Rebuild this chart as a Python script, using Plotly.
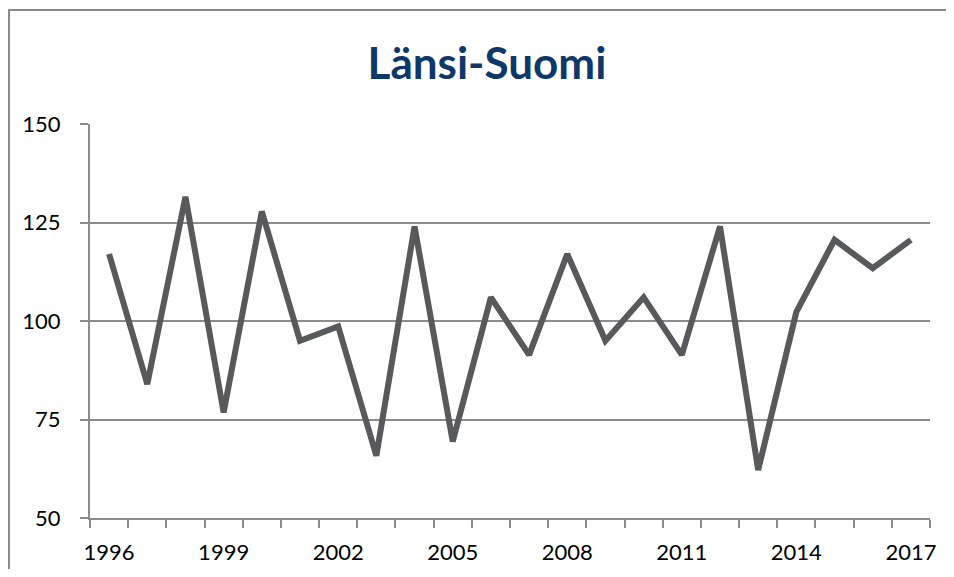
import plotly.graph_objects as go

# Data
years = list(range(1996, 2018))
values = [117, 84, 131.5, 76.8, 127.8, 95, 98.6, 65.8, 124, 69.4, 106, 91.4,
          117, 95, 106, 91.4, 124, 62.2, 102.3, 120.6, 113.4, 120.6]
label_years = [1996, 1999, 2002, 2005, 2008, 2011, 2014, 2017]
y_ticks = [50, 75, 100, 125, 150]

GRID = '#8c8c8c'
FONT = 'Lato'

# the page puts the figure 8px in from the top-left corner;
# keep it small enough that the page does not overflow the window
W, H = 938, 561
L, T = 82, 116
PW, PH = 840, 394

fig = go.Figure(
    go.Scatter(
        x=years,
        y=values,
        mode='lines',
        line=dict(color='#58595b', width=6),
        hoverinfo='skip',
    )
)

fig.update_layout(
    width=W,
    height=H,
    margin=dict(l=L, r=W - L - PW, t=T, b=H - T - PH),
    paper_bgcolor='white',
    plot_bgcolor='white',
    showlegend=False,
    font=dict(family=FONT, size=22, color='#000000'),
    title=dict(
        text='<b>Länsi-Suomi</b>',
        x=479 / W,
        xanchor='center',
        y=1 - 56 / H,
        yanchor='middle',
        font=dict(family=FONT, size=44, color='#0e3868'),
        automargin=False,
    ),
)

fig.update_xaxes(
    range=[1995.5, 2017.5],
    tickvals=label_years,
    ticks='',
    showgrid=False,
    zeroline=False,
    showline=True,
    linecolor=GRID,
    linewidth=2,
    ticklabelstandoff=14,
    automargin=False,
    minor=dict(
        ticks='outside',
        tick0=1995.5,
        dtick=1,
        ticklen=8,
        tickwidth=2,
        tickcolor=GRID,
        showgrid=False,
    ),
)

fig.update_yaxes(
    range=[50, 150],
    tickvals=y_ticks,
    ticks='outside',
    ticklen=8,
    tickwidth=2,
    tickcolor=GRID,
    showgrid=True,
    gridcolor=GRID,
    gridwidth=2,
    zeroline=False,
    showline=True,
    linecolor=GRID,
    linewidth=2,
    ticklabelstandoff=15,
    automargin=False,
)

# Outer chart frame: only its left and top edges fall inside the picture
fx = -(L - 1) / PW
fy = (T + PH - 2) / PH
fig.add_shape(
    type='path',
    xref='paper', yref='paper',
    path=f'M {fx},-0.3 L {fx},{fy} L 1.2,{fy}',
    line=dict(color='#8a8a8a', width=2),
    layer='below',
)

fig.write_html('out.html')
